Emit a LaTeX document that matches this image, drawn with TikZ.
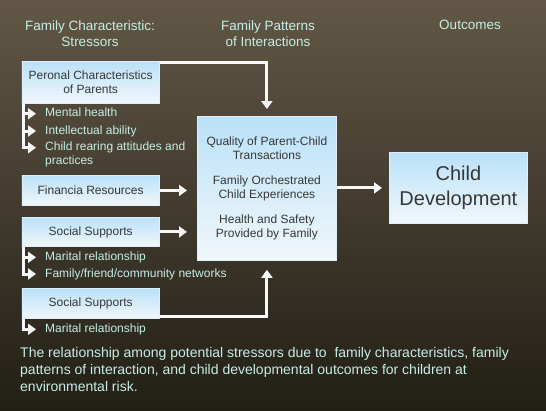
\documentclass[tikz,border=0pt]{standalone}
\usepackage{fontspec}
\setmainfont{Liberation Sans}
\usetikzlibrary{arrows.meta}
\definecolor{bgtop}{RGB}{98,87,70}
\definecolor{bgbot}{RGB}{34,31,22}
\definecolor{txtc}{RGB}{198,238,230}
\definecolor{boxtop}{RGB}{186,225,248}
\definecolor{boxbot}{RGB}{241,247,251}
\definecolor{boxline}{RGB}{222,238,250}
\definecolor{boxtext}{RGB}{55,55,55}
\definecolor{arrowc}{RGB}{248,248,248}
\tikzset{
  box/.style={draw=boxline, line width=0.8pt, top color=boxtop, bottom color=boxbot,
    text=boxtext, align=center, inner sep=0pt, anchor=north west,
    font=\fontsize{12}{13.5}\selectfont},
  conn/.style={draw=arrowc, line width=3pt, line join=miter,
    -{Triangle[width=11pt,length=8pt]}},
  head/.style={text=txtc, align=center, inner sep=0pt, anchor=north,
    font=\fontsize{13.5}{16}\selectfont},
  bullet/.style={text=txtc, anchor=west, inner xsep=9pt, inner ysep=0pt,
    text height=9pt, text depth=2.5pt, font=\fontsize{12}{13.5}\selectfont},
}
\begin{document}
\begin{tikzpicture}[x=1pt,y=-1pt]
\fill[top color=bgtop, bottom color=bgbot] (0,0) rectangle (546,410);
\useasboundingbox (0,0) rectangle (546,410);

% headers
\node[head] (h1) at (90,20.3) {Family Characteristic:\\Stressors};
\node[head] (h2) at (268,20.3) {Family Patterns\\of Interactions};
\node[head] (h3) at (470,20.3) {Outcomes};

% boxes
\node[box, minimum width=137.5pt, minimum height=42pt] (pc) at (21.5,61) {Peronal Characteristics\\of Parents};
\node[box, minimum width=137.5pt, minimum height=30pt] (fr) at (21.5,175) {Financia Resources};
\node[box, minimum width=137.5pt, minimum height=29pt] (ss1) at (21.5,217) {Social Supports};
\node[box, minimum width=137.5pt, minimum height=30pt] (ss2) at (21.5,288) {Social Supports};
\node[box, minimum width=139pt, minimum height=144pt] (ctr) at (197,116)
  {Quality of Parent-Child\\Transactions\\[12pt]Family Orchestrated\\Child Experiences\\[12pt]Health and Safety\\Provided by Family};
\node[box, minimum width=138pt, minimum height=71pt, font=\fontsize{20}{25}\selectfont] (cd) at (389,152) {Child\\Development};

% bullet items
\node[bullet] (b1) at (36,113.7) {Mental health};
\node[bullet] (b2) at (36,131) {Intellectual ability};
\node[bullet] (b3) at (36,147.7) {Child rearing attitudes and};
\node[bullet] (b3b) at (36,161) {practices};
\node[bullet] (s1) at (36,257.3) {Marital relationship};
\node[bullet] (s2) at (36,274) {Family/friend/community networks};
\node[bullet] (t1) at (36,329.3) {Marital relationship};

% connectors
\draw[conn] ([xshift=1.5pt]pc.south west) |- (b1.west);
\draw[conn] ([xshift=1.5pt]pc.south west) |- (b2.west);
\draw[conn] ([xshift=1.5pt]pc.south west) |- (b3.west);
\draw[conn] ([xshift=1.5pt]ss1.south west) |- (s1.west);
\draw[conn] ([xshift=1.5pt]ss1.south west) |- (s2.west);
\draw[conn] ([xshift=1.5pt]ss2.south west) |- (t1.west);

\draw[conn, shorten >=7pt] ([yshift=-1.5pt]pc.north east) -| (ctr.north);
\draw[conn, shorten >=10pt] (fr.east) -- (fr.east -| ctr.west);
\draw[conn, shorten >=10pt] (ss1.east) -- (ss1.east -| ctr.west);
\draw[conn, shorten >=9pt] ([yshift=2pt]ss2.south east) -| (ctr.south);
\draw[conn, shorten >=7pt] (ctr.east |- cd.west) -- (cd.west);

% caption
\node[text=txtc, align=left, anchor=north west, inner sep=0pt,
  font=\fontsize{14}{17}\selectfont] (cap) at (20,347.5)
  {The relationship among potential stressors due to\ \ family characteristics, family\\
   patterns of interaction, and child developmental outcomes for children at\\
   environmental risk.};
\end{tikzpicture}
\end{document}
